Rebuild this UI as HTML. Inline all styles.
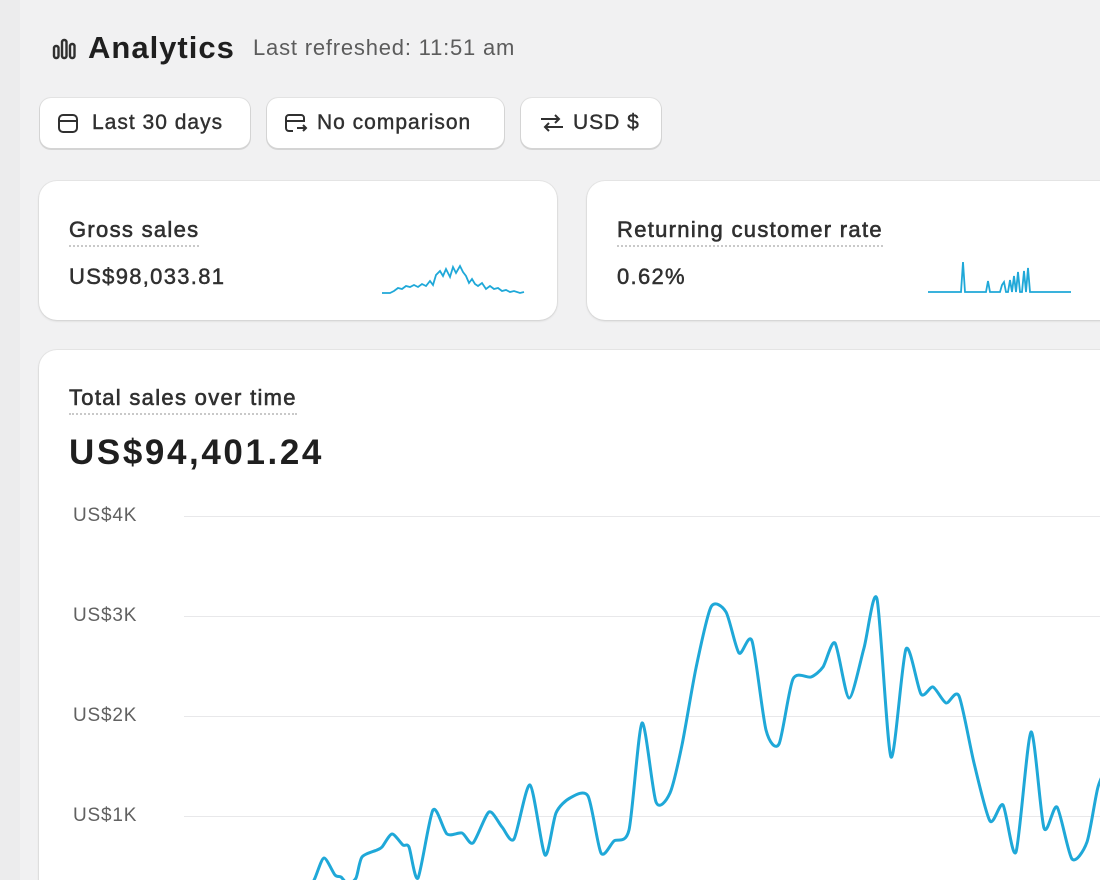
<!DOCTYPE html>
<html style="width:1100px;height:880px;overflow:hidden"><head><meta charset="utf-8"><style>
*{box-sizing:border-box;margin:0;padding:0}
body{width:1100px;height:880px;overflow:hidden;background:#f1f1f2;font-family:"Liberation Sans",sans-serif;color:#303030;position:relative}
.strip{position:absolute;left:0;top:0;width:20px;height:880px;background:#ececed}
.abs{position:absolute}
.btn{position:absolute;top:98px;height:50px;background:#fff;border-radius:11px;box-shadow:0 1px 0 1px #d4d4d4,0 0 0 1px #e3e3e3;font-size:21px;letter-spacing:1px;-webkit-text-stroke:0.4px #303030;color:#303030;display:flex;align-items:center;padding-left:16px;white-space:nowrap}
.card{position:absolute;background:#fff;border-radius:18px;box-shadow:0 1px 2px #cfcfcf,0 0 0 1px #e6e6e6}
.ttl{position:absolute;font-size:22px;letter-spacing:1.3px;-webkit-text-stroke:0.6px #303030;color:#303030;border-bottom:2px dotted #c9c9c9;padding-bottom:2px;white-space:nowrap}
.val{position:absolute;font-size:22px;letter-spacing:1.3px;-webkit-text-stroke:0.5px #303030;color:#303030}
.yl{position:absolute;left:73px;font-size:19px;letter-spacing:0.8px;color:#616161}
.gl{position:absolute;left:184px;right:0;height:1px;background:#e8e8ea}
</style></head><body>
<div class="strip"></div>
<svg class="abs" style="left:52px;top:37px" width="26" height="24" viewBox="0 0 26 24"><g fill="none" stroke="#303030" stroke-width="2.4"><rect x="2" y="9" width="4.5" height="12" rx="2"/><rect x="10" y="3" width="4.5" height="18" rx="2"/><rect x="18" y="7" width="4.5" height="14" rx="2"/></g></svg>
<div class="abs" style="left:88px;top:30px;font-size:31px;font-weight:bold;letter-spacing:1px;color:#1f1f1f">Analytics</div>
<div class="abs" style="left:253px;top:35px;font-size:22px;letter-spacing:0.8px;color:#5c5c5c;white-space:nowrap">Last refreshed: 11:51 am</div>

<div class="btn" style="left:40px;width:210px"><svg width="24" height="24" viewBox="0 0 24 24" style="margin-right:12px"><rect x="3" y="4" width="18" height="17" rx="4" fill="none" stroke="#303030" stroke-width="2"/><line x1="3" y1="10" x2="21" y2="10" stroke="#303030" stroke-width="2"/></svg>Last 30 days</div>
<div class="btn" style="left:267px;width:237px"><svg width="26" height="24" viewBox="0 0 26 24" style="margin-right:8px"><path d="M10 20H6a3 3 0 0 1-3-3V7a3 3 0 0 1 3-3h12a3 3 0 0 1 3 3v4M3 10h18M14 17h9m-3-3 3 3-3 3" fill="none" stroke="#303030" stroke-width="2"/></svg>No comparison</div>
<div class="btn" style="left:521px;width:140px"><svg width="30" height="24" viewBox="0 0 30 24" style="margin-right:6px"><path d="M4 8h18m-4-4 4 4-4 4M26 16H8m4-4-4 4 4 4" fill="none" stroke="#303030" stroke-width="2"/></svg>USD $</div>

<div class="card" style="left:39px;top:181px;width:518px;height:139px"></div>
<div class="ttl" style="left:69px;top:217px">Gross sales</div>
<div class="val" style="left:69px;top:264px">US$98,033.81</div>
<svg class="abs" style="left:380px;top:258px" width="150" height="40"><polyline fill="none" stroke="#1fa8d8" stroke-width="1.8" points="2,35 10,35 14,33 18,30 22,31 26,28 30,29 34,27 38,29 42,26 46,28 50,23 53,27 56,17 60,13 63,18 66,11 70,19 73,9 76,15 80,8 83,14 86,18 89,25 92,21 95,26 98,28 102,25 106,31 110,28 114,31 118,30 122,33 126,32 130,34 134,33 140,35 144,34"/></svg>

<div class="card" style="left:587px;top:181px;width:540px;height:139px"></div>
<div class="ttl" style="left:617px;top:217px">Returning customer rate</div>
<div class="val" style="left:617px;top:264px">0.62%</div>
<svg class="abs" style="left:928px;top:258px" width="150" height="40"><polyline fill="none" stroke="#1fa8d8" stroke-width="1.8" points="0,34 33,34 35,4 37,34 58,34 60,23 62,34 72,34 74,27 76,24 78,34 80,34 82,22 84,34 86,18 88,34 90,14 92,34 94,34 96,13 98,34 100,10 102,34 143,34"/></svg>

<div class="card" style="left:39px;top:350px;width:1100px;height:560px"></div>
<div class="ttl" style="left:69px;top:385px">Total sales over time</div>
<div class="abs" style="left:69px;top:433px;font-size:35px;font-weight:bold;letter-spacing:2.6px;color:#1f1f1f;white-space:nowrap">US$94,401.24</div>
<div class="yl" style="top:505px">US$4K</div><div class="gl" style="top:516px"></div>
<div class="yl" style="top:605px">US$3K</div><div class="gl" style="top:616px"></div>
<div class="yl" style="top:705px">US$2K</div><div class="gl" style="top:716px"></div>
<div class="yl" style="top:805px">US$1K</div><div class="gl" style="top:816px"></div>
<svg class="abs" style="left:0;top:0" width="1100" height="880"><path id="ln" fill="none" stroke="#1fa8d8" stroke-width="3" stroke-linejoin="round"/></svg>
<script>
var p=[[305,900],[315,878],[324,858],[335,875],[341,877],[348,884],[356,878],[362,857],[377,850],[382,847],[392,834],[403,845],[409,847],[418,878],[433,810],[447,834],[462,833],[473,843],[489,812],[502,827],[514,839],[530,785],[545,855],[556,813],[570,798],[588,796],[601,853],[614,841],[629,830],[642,723],[656,802],[670,793],[682,745],[696,668],[711,607],[726,612],[739,653],[752,641],[766,730],[779,744],[793,679],[811,677],[823,667],[835,643],[849,698],[864,648],[877,599],[891,757],[906,649],[921,694],[933,687],[946,703],[959,696],[974,763],[990,821],[1003,805],[1016,852],[1031,732],[1044,828],[1057,807],[1072,859],[1087,842],[1098,787],[1110,760]];
var d="M"+p[0];for(var i=0;i<p.length-1;i++){var a=p[i-1]||p[i],b=p[i],c=p[i+1],e=p[i+2]||c;d+="C"+(b[0]+(c[0]-a[0])/8)+","+(b[1]+(c[1]-a[1])/8)+" "+(c[0]-(e[0]-b[0])/8)+","+(c[1]-(e[1]-b[1])/8)+" "+c[0]+","+c[1];}
document.getElementById("ln").setAttribute("d",d);
</script>
</body></html>
